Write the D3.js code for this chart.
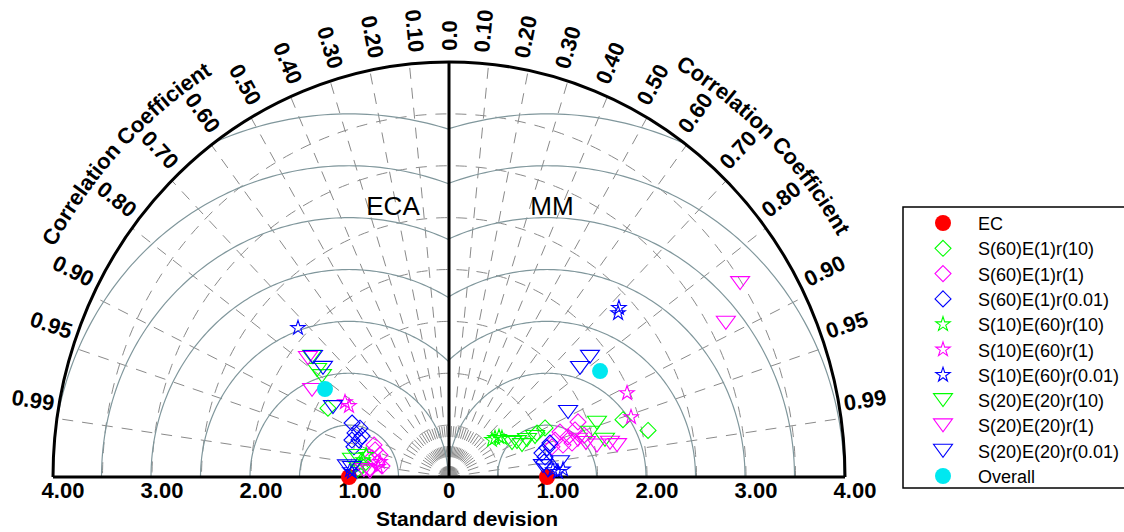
<!DOCTYPE html>
<html>
<head>
<meta charset="utf-8">
<script src="https://cdn.jsdelivr.net/npm/d3@7"></script>
<style>
  body { margin: 0; background: #fff; }
  svg { display: block; }
</style>
</head>
<body>
<script>
// grid values
var corrTicks = [0.1, 0.2, 0.3, 0.4, 0.5, 0.6, 0.7, 0.8, 0.9, 0.95, 0.99];
var corrMinor = [0.05, 0.15, 0.25, 0.35, 0.45, 0.55, 0.65, 0.75, 0.85];
var stdTicks = [0, 1, 2, 3, 4];
var stdArcs = [0.5, 1, 1.5, 2, 2.5, 3, 3.5];
var rmsArcs = [0.5, 1, 1.5, 2, 2.5, 3, 3.5];

// series
var seriesNames = ["EC", "S(60)E(1)r(10)", "S(60)E(1)r(1)", "S(60)E(1)r(0.01)",
  "S(10)E(60)r(10)", "S(10)E(60)r(1)", "S(10)E(60)r(0.01)",
  "S(20)E(20)r(10)", "S(20)E(20)r(1)", "S(20)E(20)r(0.01)", "Overall"];
var seriesColors = ["#ff0000", "#00ff00", "#ff00ff", "#0000ff",
  "#00ff00", "#ff00ff", "#0000ff", "#00ff00", "#ff00ff", "#0000ff", "#00e8f0"];
var seriesShapes = ["dot", "diamond", "diamond", "diamond",
  "star", "star", "star", "triangle", "triangle", "triangle", "dot"];

// ECA panel (left): [standard deviation, correlation]
var ecaRef = 1.01;
var ecaEC = [[1.01, 1.0]];
var ecaS60E1r10 = [[1.391, 0.879], [0.885, 0.993], [0.931, 0.997]];
var ecaS60E1r1 = [[0.791, 0.944], [0.729, 0.957], [0.799, 0.973], [0.740, 0.983], [0.803, 0.994], [0.685, 0.988], [0.818, 0.926]];
var ecaS60E1r001 = [[1.109, 0.883], [1.015, 0.886], [1.040, 0.913], [1.043, 0.940], [0.977, 0.931], [1.003, 0.957], [0.963, 0.912]];
var ecaS10E60r10 = [[0.884, 0.983], [0.906, 0.992], [0.864, 0.969]];
var ecaS10E60r1 = [[1.275, 0.824], [1.220, 0.828], [0.723, 0.991], [0.712, 0.979]];
var ecaS10E60r001 = [[2.095, 0.728], [0.981, 0.9988], [1.002, 0.9978]];
var ecaS20E20r10 = [[1.804, 0.767], [1.685, 0.791], [1.610, 0.797], [0.994, 0.986], [0.951, 0.977]];
var ecaS20E20r1 = [[1.829, 0.779], [1.618, 0.855], [0.862, 0.997], [0.800, 0.998]];
var ecaS20E20r001 = [[1.796, 0.765], [1.651, 0.771], [1.352, 0.867], [1.036, 0.995], [0.984, 0.996]];
var ecaOverall = [[1.513, 0.828]];

// MM panel (right)
var mmRef = 0.99;
var mmEC = [[0.99, 1.0]];
var mmS60E1r10 = [[1.842, 0.954], [2.060, 0.976], [1.079, 0.899], [0.985, 0.903]];
var mmS60E1r1 = [[1.407, 0.926], [1.202, 0.933], [1.262, 0.952], [1.351, 0.942], [1.129, 0.949], [1.423, 0.959], [1.192, 0.966], [1.285, 0.967], [1.080, 0.963]];
var mmS60E1r001 = [[0.967, 0.971], [0.989, 0.981], [1.029, 0.962], [1.071, 0.952], [0.971, 0.989]];
var mmS10E60r10 = [[0.598, 0.777], [0.636, 0.794], [0.562, 0.772], [0.654, 0.818]];
var mmS10E60r1 = [[1.972, 0.912], [1.927, 0.954]];
var mmS10E60r001 = [[2.367, 0.725], [2.327, 0.734], [1.102, 0.999], [1.154, 0.998], [1.052, 0.998]];
var mmS20E20r10 = [[0.765, 0.898], [0.799, 0.923], [0.865, 0.911], [0.716, 0.889], [1.583, 0.944], [1.486, 0.958], [1.616, 0.975], [0.951, 0.914]];
var mmS20E20r1 = [[3.484, 0.844], [3.167, 0.883], [1.422, 0.973], [1.525, 0.980], [1.659, 0.980], [1.725, 0.984], [1.351, 0.964]];
var mmS20E20r001 = [[1.835, 0.776], [1.690, 0.783], [1.356, 0.887], [0.955, 0.994], [1.130, 0.992], [1.002, 0.998]];
var mmOverall = [[1.836, 0.831]];

var panels = [
  { name: "ECA", side: -1, ref: ecaRef, labelX: 393,
    series: [ecaEC, ecaS60E1r10, ecaS60E1r1, ecaS60E1r001, ecaS10E60r10, ecaS10E60r1, ecaS10E60r001, ecaS20E20r10, ecaS20E20r1, ecaS20E20r001, ecaOverall] },
  { name: "MM", side: 1, ref: mmRef, labelX: 552,
    series: [mmEC, mmS60E1r10, mmS60E1r1, mmS60E1r001, mmS10E60r10, mmS10E60r1, mmS10E60r001, mmS20E20r10, mmS20E20r1, mmS20E20r001, mmOverall] }
];

var font = "'Liberation Sans', Arial, Helvetica, sans-serif";

var svg = d3.select("body").append("svg")
  .attr("width", 1124)
  .attr("height", 532)
  .style("font-family", font);

var x = d3.scaleLinear().domain([-4, 4]).range([53, 845]);
var y = d3.scaleLinear().domain([0, 4]).range([477, 62]);
var rx = x(4) - x(0), ry = y(0) - y(4);

var polar = function(r, a) { return [x(r * Math.cos(a)), y(r * Math.sin(a))]; };
var angleOf = function(c, side) { var a = Math.acos(c); return side > 0 ? a : Math.PI - a; };
var line = d3.line();
var halfTurn = d3.range(0, 181).map(function(d) { return d * Math.PI / 180; });

var defs = svg.append("defs");
defs.append("clipPath").attr("id", "clip-1").append("path")
  .attr("d", "M" + x(0) + "," + y(0) + "L" + x(-4) + "," + y(0) + "A" + rx + "," + ry + " 0 0 1 " + x(0) + "," + y(4) + "Z");
defs.append("clipPath").attr("id", "clip1").append("path")
  .attr("d", "M" + x(0) + "," + y(0) + "L" + x(4) + "," + y(0) + "A" + rx + "," + ry + " 0 0 0 " + x(0) + "," + y(4) + "Z");

var grid = svg.append("g");

// dashed standard deviation arcs
grid.selectAll(".sdArc").data(stdArcs).join("path")
  .attr("class", "sdArc")
  .attr("d", function(r) { return line(halfTurn.map(function(a) { return polar(r, a); })); })
  .attr("fill", "none")
  .attr("stroke", "#8a8a8a")
  .attr("stroke-width", 1)
  .attr("stroke-dasharray", "11,9");

// dashed correlation rays
var rays = [];
corrTicks.forEach(function(c) { rays.push({ c: c, s: 1, r: 4 }); rays.push({ c: c, s: -1, r: 4 }); });
corrMinor.forEach(function(c) { rays.push({ c: c, s: 1, r: 0.5 }); rays.push({ c: c, s: -1, r: 0.5 }); });
grid.selectAll(".ray").data(rays).join("line")
  .attr("class", "ray")
  .attr("x1", x(0)).attr("y1", y(0))
  .attr("x2", function(d) { return polar(d.r, angleOf(d.c, d.s))[0]; })
  .attr("y2", function(d) { return polar(d.r, angleOf(d.c, d.s))[1]; })
  .attr("stroke", "#8a8a8a")
  .attr("stroke-width", 1)
  .attr("stroke-dasharray", "11,9");

// RMS arcs around each reference point
panels.forEach(function(p) {
  grid.append("g")
    .attr("clip-path", "url(#clip" + p.side + ")")
    .selectAll("path").data(rmsArcs).join("path")
    .attr("d", function(r) {
      return line(halfTurn.map(function(t) {
        return [x(p.side * (p.ref + r * Math.cos(t))), y(r * Math.sin(t))];
      }));
    })
    .attr("fill", "none")
    .attr("stroke", "#80979c")
    .attr("stroke-width", 1.2);
});

// gray blob at the origin
grid.append("path")
  .attr("d", "M" + (x(0) - 9) + "," + y(0) + "A9,7 0 0 1 " + (x(0) + 9) + "," + y(0) + "Z")
  .attr("fill", "#9a9a9a");

// axes
var axes = svg.append("g").attr("fill", "none").attr("stroke", "#000").attr("stroke-width", 3);
axes.append("path")
  .attr("d", "M" + x(-4) + "," + y(0) + "A" + rx + "," + ry + " 0 0 1 " + x(4) + "," + y(0));
axes.append("line").attr("x1", x(-4)).attr("x2", x(4)).attr("y1", y(0)).attr("y2", y(0));
axes.append("line").attr("x1", x(0)).attr("x2", x(0)).attr("y1", y(0)).attr("y2", y(4));

// standard deviation tick labels
var sdLabels = [];
stdTicks.forEach(function(v) {
  if (v === 0) sdLabels.push({ v: 0, s: 1 });
  else { sdLabels.push({ v: v, s: -1 }); sdLabels.push({ v: v, s: 1 }); }
});
svg.append("g").selectAll("text").data(sdLabels).join("text")
  .attr("x", function(d) { return x(d.s * d.v) + (d.v ? 10 : 0); })
  .attr("y", 498)
  .attr("text-anchor", "middle")
  .style("font-size", "22px")
  .style("font-weight", "bold")
  .text(function(d) { return d.v ? d.v.toFixed(2) : "0"; });

svg.append("text")
  .attr("x", 467).attr("y", 526)
  .attr("text-anchor", "middle")
  .style("font-size", "21px")
  .style("font-weight", "bold")
  .text("Standard devision");

// correlation tick labels
var cLabels = [{ c: 0, s: 1 }];
corrTicks.forEach(function(c) { cLabels.push({ c: c, s: 1 }); cLabels.push({ c: c, s: -1 }); });
svg.append("g").selectAll("text").data(cLabels).join("text")
  .attr("transform", function(d) {
    var a = angleOf(d.c, d.s);
    var pt = polar(4.04, a);
    var dx = x(Math.cos(a)) - x(0), dy = y(Math.sin(a)) - y(0);
    var rot = d.s > 0 ? Math.atan2(dy, dx) : Math.atan2(-dy, -dx);
    var shift = d.c === 0 ? 8 : 0;
    return "translate(" + (pt[0] + shift) + "," + (pt[1] - 7) + ") rotate(" + (rot * 180 / Math.PI) + ")";
  })
  .attr("text-anchor", function(d) { return d.s > 0 ? "start" : "end"; })
  .style("font-size", "22px")
  .style("font-weight", "bold")
  .text(function(d) { return d.c === 0 ? "0.0" : d.c.toFixed(2); });

// curved axis titles
[{ id: "titleL", mid: 136 }, { id: "titleR", mid: 45.5 }].forEach(function(t) {
  var pts = d3.range(t.mid + 30, t.mid - 30.01, -1).map(function(d) { return polar(4.56, d * Math.PI / 180); });
  defs.append("path").attr("id", t.id).attr("d", line(pts));
  svg.append("text")
    .style("font-size", "22px")
    .style("font-weight", "bold")
    .append("textPath")
    .attr("href", "#" + t.id)
    .attr("startOffset", "50%")
    .attr("text-anchor", "middle")
    .text("Correlation Coefficient");
});

// panel names
svg.append("g").selectAll("text").data(panels).join("text")
  .attr("x", function(p) { return p.labelX; })
  .attr("y", 215)
  .attr("text-anchor", "middle")
  .style("font-size", "26px")
  .text(function(p) { return p.name; });

// marker shapes
var shapePath = {
  dot: d3.symbol(d3.symbolCircle, 201)(),
  diamond: "M0,-8L8,0L0,8L-8,0Z",
  star: d3.symbol(d3.symbolStar, 65)(),
  triangle: "M-9.5,-6.5L9.5,-6.5L0,6.5Z"
};

function drawMarker(sel, i) {
  sel.attr("d", shapePath[seriesShapes[i]])
    .attr("fill", seriesShapes[i] === "dot" ? seriesColors[i] : "none")
    .attr("stroke", seriesShapes[i] === "dot" ? "none" : seriesColors[i])
    .attr("stroke-width", 1.1);
}

panels.forEach(function(p) {
  var g = svg.append("g");
  p.series.forEach(function(pts, i) {
    g.append("g").selectAll("path").data(pts).join("path")
      .attr("transform", function(d) {
        var sd = d[0], c = d[1];
        return "translate(" + x(p.side * sd * c) + "," + y(sd * Math.sqrt(Math.max(0, 1 - c * c))) + ")";
      })
      .call(drawMarker, i);
  });
});

// legend
var legend = svg.append("g");
legend.append("rect")
  .attr("x", 903).attr("y", 207)
  .attr("width", 240).attr("height", 281)
  .attr("fill", "#fff")
  .attr("stroke", "#000")
  .attr("stroke-width", 1.5);
var rows = legend.selectAll(".row").data(seriesNames).join("g")
  .attr("class", "row")
  .attr("transform", function(d, i) { return "translate(0," + (230 + 25.3 * i) + ")"; });
rows.each(function(d, i) {
  d3.select(this).append("path")
    .attr("transform", "translate(943,-7)")
    .call(drawMarker, i);
});
rows.append("text")
  .attr("x", 978).attr("y", 0)
  .style("font-size", "18px")
  .text(function(d) { return d; });
</script>
</body>
</html>
